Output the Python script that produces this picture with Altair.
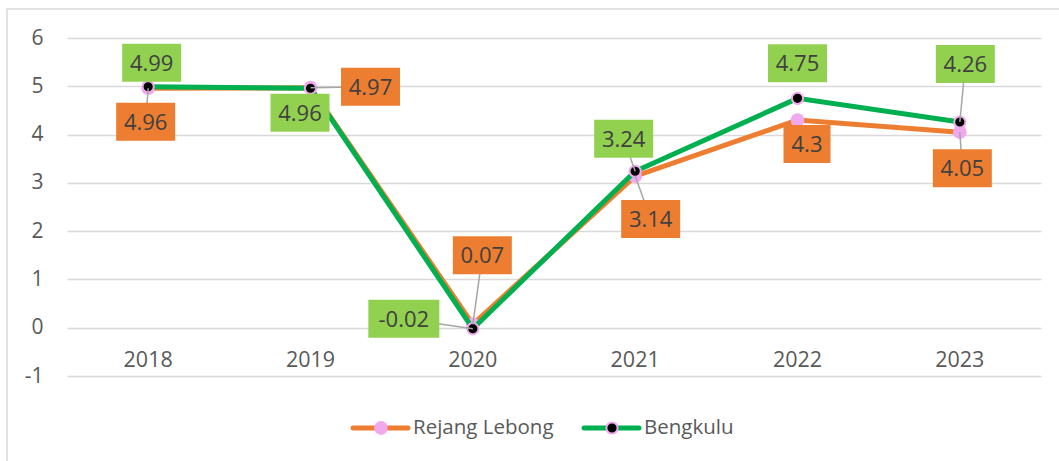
import altair as alt
import pandas as pd

# ---- data -------------------------------------------------------------
years = ["2018", "2019", "2020", "2021", "2022", "2023"]
rejang_lebong = [4.96, 4.97, 0.07, 3.14, 4.30, 4.05]
bengkulu = [4.99, 4.96, -0.02, 3.24, 4.75, 4.26]
series_names = ["Rejang Lebong", "Bengkulu"]
y_ticks = [-1, 0, 1, 2, 3, 4, 5, 6]

# ---- styling ------------------------------------------------------------
ORANGE = "#ED7D31"
GREEN_LINE = "#00B050"
GREEN_BOX = "#92D050"
PINK = "#F0A8EE"
GRID = "#D9D9D9"
LEADER = "#A6A6A6"
FONT = "Open Sans"

# data-label box placement relative to its point, in pixels (right, down)
rejang_offsets = [(-2.5, 33.5), (60, -1), (9.5, -69), (15.5, 43), (9.5, 24), (2.5, 36)]
bengkulu_offsets = [(3.5, -24), (-10.5, 24.5), (-69, -10), (-11.5, -32.5), (0, -35), (5.5, -58)]
rejang_leaders = [True, True, True, True, False, True]
bengkulu_leaders = [False, False, True, True, False, True]

W, H = 974, 338
X_DOMAIN = [-0.5, len(years) - 0.5]
Y_DOMAIN = [-1, 6]
PX_X = W / (X_DOMAIN[1] - X_DOMAIN[0])
PX_Y = H / (Y_DOMAIN[1] - Y_DOMAIN[0])
BOX_H = 38


def box_width(text):
    return 11 + 12 * len(text)


def series_frames(name, values, offsets, leaders):
    pts = pd.DataFrame({"idx": range(len(values)), "year": years,
                        "value": values, "series": name})
    rows = []
    for i, (v, (dx, dy), lead) in enumerate(zip(values, offsets, leaders)):
        text = f"{v:g}"
        cx = i + dx / PX_X
        cy = v - dy / PX_Y
        hw = box_width(text) / 2 / PX_X
        hh = BOX_H / 2 / PX_Y
        rows.append({"idx": i, "value": v, "text": text, "cx": cx, "cy": cy,
                     "x0": cx - hw, "x1": cx + hw, "y0": cy - hh, "y1": cy + hh,
                     "leader": lead, "series": name})
    return pts, pd.DataFrame(rows)


rl_pts, rl_lab = series_frames(series_names[0], rejang_lebong, rejang_offsets, rejang_leaders)
bk_pts, bk_lab = series_frames(series_names[1], bengkulu, bengkulu_offsets, bengkulu_leaders)
labels = pd.concat([rl_lab, bk_lab], ignore_index=True)

x_scale = alt.Scale(domain=X_DOMAIN, nice=False, zero=False)
y_scale = alt.Scale(domain=Y_DOMAIN, nice=False, zero=False)
y_axis = alt.Axis(values=y_ticks, grid=True, gridColor=GRID, gridWidth=1.5,
                  domain=False, ticks=False, title=None, labelFont=FONT,
                  labelFontSize=21, labelColor="#595959", labelPadding=24,
                  labelExpr="'' + datum.value")


def X(field, **kw):
    return alt.X(field, scale=x_scale, axis=None, **kw)


def Y(field, **kw):
    return alt.Y(field, scale=y_scale, axis=y_axis, **kw)


box_color = alt.Color("series:N", scale=alt.Scale(domain=series_names,
                                                    range=[ORANGE, GREEN_BOX]),
                      legend=None)

# chart frame
frame = alt.Chart(alt.Data(values=[{"k": 1}])).mark_rect(
    fillOpacity=0, stroke=GRID, strokeWidth=1.5
).encode(x=alt.value(-60), x2=alt.value(1100), y=alt.value(-29), y2=alt.value(520))

# year labels sit under the zero line
year_df = pd.DataFrame({"idx": range(len(years)), "year": years, "zero": 0})
year_text = alt.Chart(year_df).mark_text(
    font=FONT, fontSize=21.5, color="#595959", baseline="alphabetic", dy=39
).encode(x=X("idx:Q"), y=Y("zero:Q"), text="year:N")

rl_line = alt.Chart(rl_pts).mark_line(color=ORANGE, strokeWidth=5).encode(
    x=X("idx:Q"), y=Y("value:Q"))
rl_mark = alt.Chart(rl_pts).mark_point(filled=True, fill=PINK, size=190, opacity=1,
                                       strokeWidth=0).encode(
    x=X("idx:Q"), y=Y("value:Q"))
bk_line = alt.Chart(bk_pts).mark_line(color=GREEN_LINE, strokeWidth=5).encode(
    x=X("idx:Q"), y=Y("value:Q"))
bk_mark = alt.Chart(bk_pts).mark_point(filled=True, fill="black", stroke=PINK,
                                       strokeWidth=2, size=125, opacity=1).encode(
    x=X("idx:Q"), y=Y("value:Q"))

leaders = alt.Chart(labels).transform_filter("datum.leader").mark_rule(
    color=LEADER, strokeWidth=1.5
).encode(x=X("idx:Q"), y=Y("value:Q"), x2="cx:Q", y2="cy:Q")

boxes = alt.Chart(labels).mark_rect().encode(
    x=X("x0:Q"), x2="x1:Q", y=Y("y0:Q"), y2="y1:Q", color=box_color)

box_text = alt.Chart(labels).mark_text(
    font=FONT, fontSize=22, color="#404040", baseline="middle", dy=1
).encode(x=X("cx:Q"), y=Y("cy:Q"), text="text:N")


# legend drawn below the plot
def legend_item(x0, label, line_color, marker):
    d = alt.Data(values=[{"k": 1}])
    line = alt.Chart(d).mark_rule(color=line_color, strokeWidth=5, strokeCap="round").encode(
        x=alt.value(x0), x2=alt.value(x0 + 55), y=alt.value(390))
    if marker == "pink":
        dot = alt.Chart(d).mark_point(filled=True, fill=PINK, size=190, opacity=1,
                                      strokeWidth=0).encode(
            x=alt.value(x0 + 28), y=alt.value(390))
    else:
        dot = alt.Chart(d).mark_point(filled=True, fill="black", stroke=PINK,
                                      strokeWidth=2, size=125, opacity=1).encode(
            x=alt.value(x0 + 28), y=alt.value(390))
    txt = alt.Chart(d).mark_text(font=FONT, fontSize=20.5, color="#595959",
                                 align="left", baseline="middle", text=label).encode(
        x=alt.value(x0 + 60), y=alt.value(390))
    return [line, dot, txt]


legend_layers = (legend_item(286, series_names[0], ORANGE, "pink")
                 + legend_item(517, series_names[1], GREEN_LINE, "black"))

chart = alt.layer(
    frame, year_text, rl_line, rl_mark, bk_line, bk_mark, leaders, boxes, box_text,
    *legend_layers
).properties(
    width=W, height=H,
    autosize=alt.AutoSizeParams(type="none"),
    padding={"left": 67, "top": 38, "right": 18, "bottom": 85},
    background="white",
).configure_view(strokeWidth=0)

chart.save("out.html", embed_options={"renderer": "svg", "actions": False})
